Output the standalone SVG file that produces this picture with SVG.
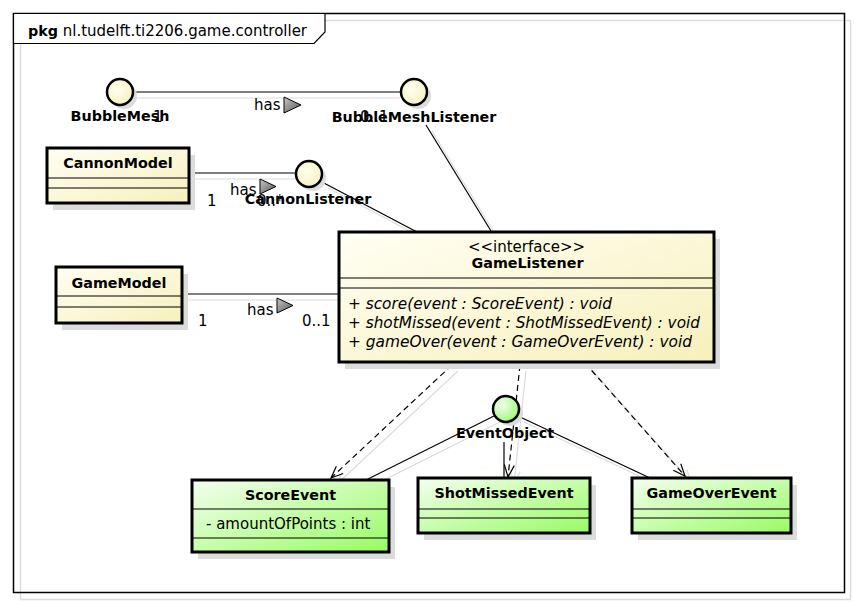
<svg xmlns="http://www.w3.org/2000/svg" width="854" height="606" viewBox="0 0 854 606">
<defs>
<linearGradient id="yel" x1="0" y1="0" x2="1" y2="1">
<stop offset="0" stop-color="#fffff4"/>
<stop offset="1" stop-color="#f7f0bc"/>
</linearGradient>
<linearGradient id="grn" x1="0" y1="0" x2="1" y2="1">
<stop offset="0" stop-color="#f4fff0"/>
<stop offset="1" stop-color="#98fb64"/>
</linearGradient>
<radialGradient id="ycirc" cx="0.4" cy="0.4" r="0.7">
<stop offset="0" stop-color="#ffffee"/>
<stop offset="1" stop-color="#f6efc0"/>
</radialGradient>
<radialGradient id="gcirc" cx="0.35" cy="0.35" r="0.75">
<stop offset="0" stop-color="#f0fff0"/>
<stop offset="1" stop-color="#9cf56c"/>
</radialGradient>
<linearGradient id="tri" x1="0" y1="0" x2="1" y2="1">
<stop offset="0" stop-color="#c8c8c8"/>
<stop offset="1" stop-color="#555"/>
</linearGradient>
<marker id="open" viewBox="0 0 14 12" refX="13" refY="6" markerWidth="14" markerHeight="12" orient="auto" markerUnits="userSpaceOnUse">
<path d="M1,1 L13,6 L1,11" fill="none" stroke="#000" stroke-width="1.2" stroke-dasharray="none"/>
</marker>
<marker id="openg" viewBox="0 0 14 12" refX="13" refY="6" markerWidth="14" markerHeight="12" orient="auto" markerUnits="userSpaceOnUse">
<path d="M1,1 L13,6 L1,11" fill="none" stroke="#dcdcdc" stroke-width="1.2"/>
</marker>
</defs>
<style>
.b{font-family:"DejaVu Sans","Noto Sans",sans-serif;font-weight:bold;font-size:14.3px;fill:#000}
.n{font-family:"DejaVu Sans","Noto Sans",sans-serif;font-size:15px;fill:#000}
.i{font-family:"DejaVu Sans","Noto Sans",sans-serif;font-style:italic;font-size:15px;fill:#000}
.sh{fill:#dcdcdc}
.box{stroke:#000;stroke-width:3}
.sep{stroke:#000;stroke-width:1}
.ln{stroke:#000;stroke-width:1.2;fill:none}
.lg{stroke:#dcdcdc;stroke-width:1.2;fill:none}
.dash{stroke:#000;stroke-width:1.2;fill:none;stroke-dasharray:6,4}
.circ{stroke:#000;stroke-width:2.5}
</style>
<rect width="854" height="606" fill="#fff"/>
<g id="frame">
<rect x="20.5" y="20.5" width="830" height="579" fill="none" stroke="#dcdcdc" stroke-width="1.5"/>
<rect x="13.5" y="13.5" width="831" height="579" fill="none" stroke="#000" stroke-width="1.5"/>
<path d="M13.5,13.5 H325 V32 L314,43.5 H13.5 Z" fill="#fff" stroke="#000" stroke-width="1.2"/>
<text x="28" y="36" class="n"><tspan font-weight="bold" font-size="14.3px">pkg</tspan> nl.tudelft.ti2206.game.controller</text>
</g>
<g id="connectors">
<line class="lg" x1="134" y1="98" x2="400" y2="98"/>
<line class="lg" x1="189" y1="179" x2="296" y2="179"/>
<line class="lg" x1="182" y1="300" x2="339" y2="300"/>
<line class="lg" x1="432" y1="131" x2="497" y2="237"/>
<line class="lg" x1="328" y1="188" x2="423" y2="238"/>
<line class="lg" x1="458" y1="371" x2="337" y2="484" marker-end="url(#openg)"/>
<line class="lg" x1="526" y1="371" x2="514" y2="483" marker-end="url(#openg)"/>
<line class="lg" x1="591" y1="369" x2="691" y2="482" marker-end="url(#openg)"/>
<line class="lg" x1="500" y1="422" x2="372" y2="486"/>
<line class="lg" x1="524" y1="422" x2="656" y2="484"/>
<line class="ln" x1="134" y1="92" x2="400" y2="92"/>
<line class="ln" x1="189" y1="173" x2="296" y2="173"/>
<line class="ln" x1="182" y1="294" x2="339" y2="294"/>
<line class="ln" x1="426" y1="125" x2="491" y2="231"/>
<line class="ln" x1="322" y1="182" x2="417" y2="232"/>
<line class="dash" x1="452" y1="365" x2="331" y2="478" marker-end="url(#open)"/>
<line class="dash" x1="520" y1="365" x2="508" y2="477" marker-end="url(#open)"/>
<line class="dash" x1="585" y1="363" x2="685" y2="476" marker-end="url(#open)"/>
<line class="ln" x1="494" y1="416" x2="366" y2="480"/>
<line class="ln" x1="504" y1="442" x2="504" y2="478"/>
<line class="ln" x1="518" y1="416" x2="650" y2="478"/>
<text x="254" y="110" class="n">has</text>
<path d="M284,97 L301,105 L284,113 Z" fill="url(#tri)" stroke="#000" stroke-width="1"/>
<text x="153" y="122" class="n">1</text>
<text x="360" y="122" class="n">0..1</text>
<text x="230" y="195" class="n">has</text>
<path d="M260,179 L276,186.5 L260,194 Z" fill="url(#tri)" stroke="#000" stroke-width="1"/>
<text x="207" y="206" class="n">1</text>
<text x="257" y="206" class="n">0..*</text>
<text x="247" y="315" class="n">has</text>
<path d="M277,298 L293,305.5 L277,313 Z" fill="url(#tri)" stroke="#000" stroke-width="1"/>
<text x="198" y="326" class="n">1</text>
<text x="302" y="326" class="n">0..1</text>
</g>
<g id="BubbleMesh">
<circle cx="124" cy="96" r="13" class="sh"/>
<circle cx="120" cy="92" r="13" fill="url(#ycirc)" class="circ"/>
<text x="120" y="121" class="b" text-anchor="middle">BubbleMesh</text>
</g>
<g id="BubbleMeshListener">
<circle cx="418" cy="96" r="13" class="sh"/>
<circle cx="414" cy="92" r="13" fill="url(#ycirc)" class="circ"/>
<text x="414" y="122" class="b" text-anchor="middle">BubbleMeshListener</text>
</g>
<g id="CannonListener">
<circle cx="313" cy="178" r="13" class="sh"/>
<circle cx="309" cy="174" r="13" fill="url(#ycirc)" class="circ"/>
<text x="308" y="204" class="b" text-anchor="middle">CannonListener</text>
</g>
<g id="CannonModel">
<rect x="53" y="155" width="142" height="55" class="sh"/>
<rect x="47" y="148" width="142" height="55" fill="url(#yel)" class="box"/>
<line x1="47" y1="178" x2="189" y2="178" class="sep"/>
<line x1="47" y1="188" x2="189" y2="188" class="sep"/>
<text x="118" y="168" class="b" text-anchor="middle">CannonModel</text>
</g>
<g id="GameModel">
<rect x="62" y="274" width="126" height="56" class="sh"/>
<rect x="56" y="267" width="126" height="56" fill="url(#yel)" class="box"/>
<line x1="56" y1="296" x2="182" y2="296" class="sep"/>
<line x1="56" y1="307" x2="182" y2="307" class="sep"/>
<text x="119" y="288" class="b" text-anchor="middle">GameModel</text>
</g>
<g id="GameListener">
<rect x="345" y="239" width="375" height="130" class="sh"/>
<rect x="339" y="232" width="375" height="130" fill="url(#yel)" class="box"/>
<line x1="339" y1="278" x2="714" y2="278" class="sep"/>
<line x1="339" y1="288" x2="714" y2="288" class="sep"/>
<text x="526.5" y="252" class="n" text-anchor="middle">&lt;&lt;interface&gt;&gt;</text>
<text x="527.5" y="268" class="b" text-anchor="middle">GameListener</text>
<text x="348" y="309" class="i" textLength="264" lengthAdjust="spacingAndGlyphs">+ score(event : ScoreEvent) : void</text>
<text x="348" y="328" class="i" textLength="352" lengthAdjust="spacingAndGlyphs">+ shotMissed(event : ShotMissedEvent) : void</text>
<text x="348" y="347" class="i" textLength="344" lengthAdjust="spacingAndGlyphs">+ gameOver(event : GameOverEvent) : void</text>
</g>
<g id="EventObject">
<circle cx="510" cy="413" r="13" class="sh"/>
<circle cx="506" cy="409" r="13" fill="url(#gcirc)" class="circ"/>
<text x="505" y="438" class="b" text-anchor="middle">EventObject</text>
</g>
<g id="ScoreEvent">
<rect x="198" y="487" width="197" height="72" class="sh"/>
<rect x="192" y="480" width="197" height="72" fill="url(#grn)" class="box"/>
<line x1="192" y1="509" x2="389" y2="509" class="sep"/>
<line x1="192" y1="538" x2="389" y2="538" class="sep"/>
<text x="290.5" y="500" class="b" text-anchor="middle">ScoreEvent</text>
<text x="206" y="529" class="n">- amountOfPoints : int</text>
</g>
<g id="ShotMissedEvent">
<rect x="424" y="485" width="172" height="55" class="sh"/>
<rect x="418" y="478" width="172" height="55" fill="url(#grn)" class="box"/>
<line x1="418" y1="509" x2="590" y2="509" class="sep"/>
<line x1="418" y1="518" x2="590" y2="518" class="sep"/>
<text x="504" y="498" class="b" text-anchor="middle">ShotMissedEvent</text>
</g>
<g id="GameOverEvent">
<rect x="638" y="485" width="159" height="55" class="sh"/>
<rect x="632" y="478" width="159" height="55" fill="url(#grn)" class="box"/>
<line x1="632" y1="509" x2="791" y2="509" class="sep"/>
<line x1="632" y1="518" x2="791" y2="518" class="sep"/>
<text x="711.5" y="498" class="b" text-anchor="middle">GameOverEvent</text>
</g>
</svg>
